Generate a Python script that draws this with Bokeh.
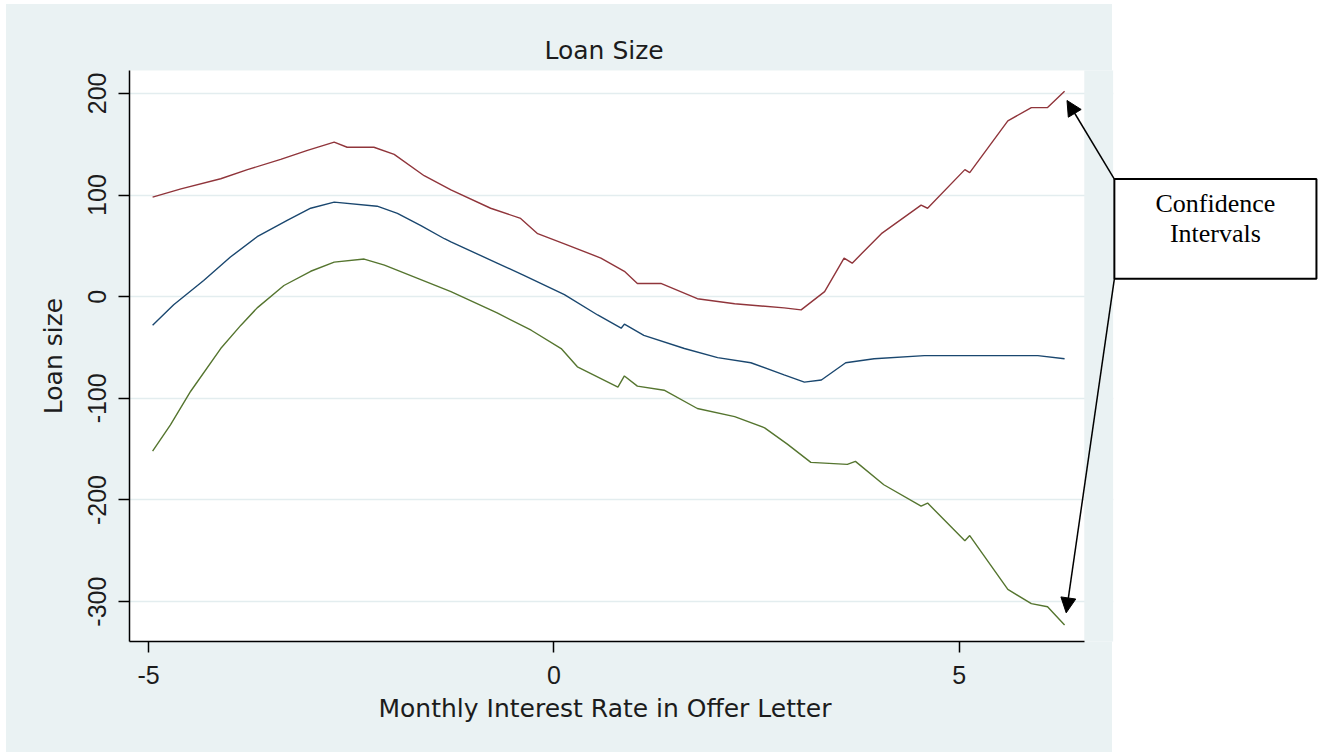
from bokeh.plotting import figure
from bokeh.models import (Range1d, FixedTicker, BoxAnnotation, Label, Arrow, NormalHead,
                          PrintfTickFormatter, Title)
from bokeh.embed import file_html
from bokeh.resources import INLINE

# ---- data ----
x_upper = [-4.95, -4.60, -4.11, -3.78, -3.37, -3.04, -2.71, -2.55, -2.22, -1.97, -1.60, -1.27,
           -0.78, -0.41, -0.20, 0.13, 0.58, 0.87, 1.03, 1.32, 1.77, 2.23, 2.84, 3.05, 3.34,
           3.58, 3.68, 4.04, 4.53, 4.61, 5.07, 5.13, 5.60, 5.89, 6.09, 6.30]
y_upper = [98, 106, 116, 125, 135, 144, 152, 147, 147, 140, 119, 105,
           87, 77, 62, 52, 38, 25, 13, 13, -2, -7, -11, -13, 5,
           38, 33, 62, 90, 87, 125, 122, 173, 186, 186, 202]

x_fit = [-4.95, -4.69, -4.32, -3.99, -3.66, -3.29, -3.00, -2.71, -2.18, -1.93, -1.64, -1.35,
         -1.27, -0.70, -0.37, 0.13, 0.54, 0.83, 0.87, 1.11, 1.61, 2.02, 2.43, 2.84, 3.09,
         3.30, 3.60, 3.95, 4.57, 5.97, 6.30]
y_fit = [-28, -8, 16, 39, 59, 75, 87, 93, 89, 82, 70, 57,
         54, 33, 21, 2, -18, -31, -27, -38, -51, -60, -65, -77, -84,
         -82, -65, -61, -58, -58, -61]

x_lower = [-4.95, -4.73, -4.48, -4.11, -3.86, -3.66, -3.33, -3.00, -2.71, -2.34, -2.09, -1.68,
           -1.27, -0.70, -0.28, 0.09, 0.29, 0.79, 0.87, 1.03, 1.36, 1.77, 2.23, 2.60, 2.88,
           3.17, 3.62, 3.72, 4.07, 4.53, 4.61, 5.07, 5.13, 5.60, 5.89, 6.09, 6.30]
y_lower = [-152, -126, -93, -51, -28, -11, 11, 25, 34, 37, 31, 18,
           5, -16, -33, -51, -69, -89, -78, -88, -92, -110, -118, -129, -145,
           -163, -165, -162, -185, -206, -203, -240, -235, -288, -302, -305, -323]

x_ticks = [-5, 0, 5]
y_ticks = [-300, -200, -100, 0, 100, 200]

title = "Loan Size"
x_title = "Monthly Interest Rate in Offer Letter"
y_title = "Loan size"
note_text = "Confidence\nIntervals"

BG = "#EAF2F3"
TITLE_FONT = "DejaVu Sans"
TICK_FONT = "Liberation Sans"
TXT = "#1c1c1c"

# graph region limits (x) and the extended frame that also hosts the note box
X_LO, X_AXIS_HI, X_GRAPH_HI, X_HI = -5.235, 6.543, 6.901, 9.457

p = figure(width=1320, height=752, output_backend="svg", toolbar_location=None,
           x_range=Range1d(X_LO, X_HI), y_range=Range1d(-339.2, 222.5),
           min_border_left=129, min_border_right=0, min_border_top=70, min_border_bottom=111)
p.border_fill_alpha = 0
p.styles = {"background": ("linear-gradient(to bottom, #FFFFFF 0px, #FFFFFF 4px, rgba(255,255,255,0) 4px), "
                           "linear-gradient(to right, #FFFFFF 0px, #FFFFFF 6px, %s 6px, %s 1112px, "
                           "#FFFFFF 1112px, #FFFFFF 100%%)") % (BG, BG)}
p.background_fill_color = "white"
p.outline_line_color = None

p.add_layout(Title(text=title, align="left", offset=415, text_font=TITLE_FONT,
                   text_font_size="25px", text_font_style="normal", text_color=TXT,
                   standoff=11), "above")

for ax in (p.xaxis[0], p.yaxis[0]):
    ax.axis_line_color = "black"
    ax.axis_line_width = 1.5
    ax.major_tick_line_color = "black"
    ax.major_tick_line_width = 1.5
    ax.major_tick_in = 0
    ax.major_tick_out = 11
    ax.minor_tick_line_color = None
    ax.major_label_text_font = TICK_FONT
    ax.major_label_text_font_size = "25px"
    ax.major_label_text_color = TXT
    ax.axis_label_text_font = TITLE_FONT
    ax.axis_label_text_font_size = "25px"
    ax.axis_label_text_font_style = "normal"
    ax.axis_label_text_color = TXT
    ax.formatter = PrintfTickFormatter(format="%d")

p.xaxis.ticker = FixedTicker(ticks=x_ticks)
p.yaxis.ticker = FixedTicker(ticks=y_ticks)
p.xaxis.bounds = (X_LO, X_AXIS_HI)
p.yaxis.major_label_orientation = "vertical"
p.yaxis.axis_label = y_title
p.xaxis.major_label_standoff = 13
p.yaxis.major_label_standoff = 12
p.yaxis.axis_label_standoff = 18

# x title, centred under the graph region (the frame is wider than the axis)
p.add_layout(Title(text=x_title, align="left", offset=249, text_font=TITLE_FONT,
                   text_font_size="25px", text_font_style="normal", text_color=TXT,
                   standoff=11), "below")

p.xgrid.grid_line_color = None
p.ygrid.grid_line_color = "#E3EDEF"
p.ygrid.grid_line_width = 1.5

# strip between graph region and page edge: grey margin, then white page
p.add_layout(BoxAnnotation(left=X_AXIS_HI, right=X_GRAPH_HI, top=1000, bottom=-1000,
                           fill_color=BG, fill_alpha=1, line_color=None, line_alpha=0,
                           level="glyph"))
p.add_layout(BoxAnnotation(left=X_GRAPH_HI, right=20, top=1000, bottom=-1000,
                           fill_color="white", fill_alpha=1, line_color=None, line_alpha=0,
                           level="glyph"))

p.line(x_upper, y_upper, line_color="#90353B", line_width=1.4)
p.line(x_fit, y_fit, line_color="#1A476F", line_width=1.4)
p.line(x_lower, y_lower, line_color="#55752F", line_width=1.4)

# note box
box_left, box_right, box_top, box_bottom = 6.914, 9.407, 115.7, 17.6
p.add_layout(BoxAnnotation(left=box_left, right=box_right, top=box_top, bottom=box_bottom,
                           fill_color="white", fill_alpha=1, line_color="black", line_alpha=1,
                           line_width=2, level="overlay"))
p.add_layout(Label(x=(box_left + box_right) / 2, y=76.9, text=note_text,
                   text_font="Liberation Serif", text_font_size="26px", text_align="center",
                   text_baseline="middle", text_line_height=1.05, text_color="black",
                   level="overlay"))

# arrows from the box corners to the interval ends
p.add_layout(Arrow(x_start=box_left, y_start=box_top, x_end=x_upper[-1] + 0.03, y_end=y_upper[-1] - 9,
                   line_color="black", line_width=1.5, level="overlay",
                   end=NormalHead(size=15, fill_color="black", line_color="black")))
p.add_layout(Arrow(x_start=box_left, y_start=box_bottom, x_end=x_lower[-1] + 0.02, y_end=y_lower[-1] + 12,
                   line_color="black", line_width=1.5, level="overlay",
                   end=NormalHead(size=15, fill_color="black", line_color="black")))

open("out.html", "w").write(file_html(p, INLINE))
